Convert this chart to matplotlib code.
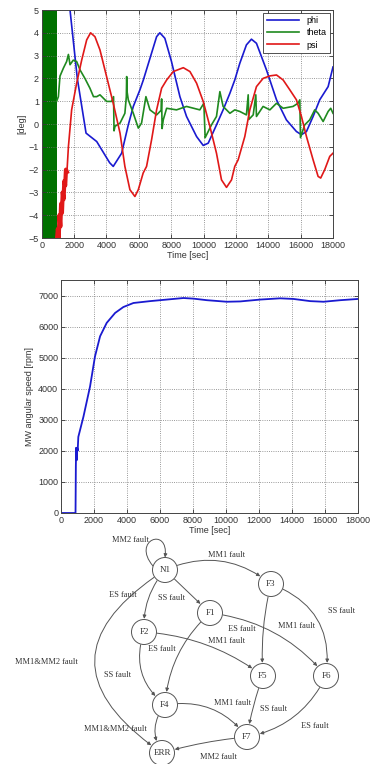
import matplotlib
matplotlib.use('Agg')
import matplotlib.pyplot as plt
from matplotlib.patches import Circle, FancyArrowPatch
from matplotlib.path import Path

plt.rcParams['font.family'] = ['Liberation Sans', 'DejaVu Sans']

# ---- attitude angles [deg] vs time [sec]
phi_t = [1300, 1750, 2200, 2740, 3400, 4200, 4420, 4940, 5350, 5660, 6070, 6280, 6690, 7100, 7300,
         7610, 8020, 8540, 8950, 9570, 9980, 10290, 10800, 11210, 11630, 11930, 12240, 12650, 12960,
         13270, 13890, 14510, 15120, 15740, 16050, 16360, 16770, 17180, 17700, 18000]
phi = [8.0, 5.0, 2.0, -0.4, -0.77, -1.7, -1.86, -1.28, -0.04, 0.77, 1.5, 1.93, 2.88, 3.83, 4.0,
       3.76, 2.74, 1.2, 0.33, -0.55, -0.94, -0.84, -0.04, 0.62, 1.35, 1.93, 2.66, 3.47, 3.72,
       3.54, 2.37, 1.06, 0.18, -0.33, -0.47, -0.33, 0.33, 1.06, 1.64, 2.5]

theta_band = [0, 925]
theta_t = [925, 1030, 1130, 1340, 1540, 1650, 1750, 1950, 2160, 2370, 2670, 2980, 3200, 3400, 3600,
           4010, 4320, 4440, 4470, 4530, 4840, 5140, 5230, 5250, 5280, 5350, 5660, 5970, 6170, 6440,
           6690, 7100, 7380, 7410, 7440, 7510, 7720, 8330, 8950, 9770, 10020, 10100, 10190, 10490,
           10800, 11010, 11210, 11630, 11930, 12240, 12650, 12760, 12800, 13070, 13230, 13270, 13680,
           14100, 14510, 14920, 15530, 15840, 15950, 15990, 16250, 16560, 16870, 17080, 17390, 17700,
           17860, 18000]
theta = [1.0, 1.2, 2.1, 2.45, 2.74, 3.05, 2.6, 2.8, 2.74, 2.37, 2.0, 1.57, 1.2, 1.2, 1.28,
         0.99, 0.99, 1.2, -0.3, -0.1, 0.04, 0.47, 1.2, 2.08, 1.4, 1.06, 0.47, -0.18, 0.04, 1.2,
         0.62, 0.4, 0.6, 1.1, -0.2, 0.18, 0.69, 0.62, 0.77, 0.62, 0.91, -0.6, -0.47, -0.04,
         0.33, 1.42, 0.77, 0.47, 0.62, 0.55, 0.40, 1.28, 0.2, 0.4, 1.28, 0.33, 0.77,
         0.62, 0.91, 0.69, 0.77, 0.91, 1.06, -0.6, -0.04, 0.18, 0.62, 0.47, 0.11, 0.55,
         0.69, 0.47]

psi_t = [950, 1000, 1050, 1100, 1150, 1200, 1250, 1300, 1350, 1400, 1450, 1500, 1560, 1650, 1850,
         2160, 2470, 2780, 3020, 3290, 3600, 4010, 4420, 4840, 5140, 5450, 5760, 5970, 6270, 6480,
         6790, 7100, 7410, 7720, 8130, 8750, 9160, 9570, 9980, 10390, 10800, 11110, 11420, 11730,
         11930, 12140, 12550, 12860, 13270, 13680, 14100, 14510, 14920, 15330, 15740, 16050, 16360,
         16770, 17080, 17240, 17490, 17800, 18000]
psi = [-5.0, -4.6, -5.0, -4.0, -4.5, -3.5, -3.9, -3.0, -3.3, -2.5, -2.7, -2.0, -2.1, -1.0, 0.62,
       1.79, 2.8, 3.69, 4.0, 3.83, 3.25, 2.08, 0.91, -0.4, -1.86, -2.88, -3.18, -2.88, -2.15, -1.86,
       -0.69, 0.62, 1.57, 1.93, 2.30, 2.47, 2.30, 1.79, 0.99, -0.1, -1.28, -2.45, -2.78, -2.45,
       -1.86, -1.57, -0.55, 0.62, 1.64, 2.0, 2.11, 2.15, 1.93, 1.5, 1.06, 0.33, -0.55,
       -1.57, -2.3, -2.37, -2.0, -1.42, -1.28]

# ---- momentum wheel speed [rpm]
mw_t = [0, 880, 890, 900, 920, 950, 980, 1010, 1050, 1360, 1760, 2060, 2370, 2770, 3280, 3780,
        4390, 5400, 6410, 7420, 8030, 8840, 10050, 10860, 12070, 13280, 14090, 15100, 15910, 16930, 18000]
mw_rpm = [0, 0, 700, 1500, 2100, 1700, 2100, 2000, 2450, 3100, 4070, 5040, 5690, 6120, 6440, 6630,
          6760, 6820, 6870, 6920, 6900, 6850, 6800, 6810, 6870, 6910, 6890, 6820, 6800, 6850, 6890]

# ---- fault state diagram
nodes = {'N1': (165, 570), 'F3': (271, 584), 'F1': (210, 613), 'F2': (144, 632),
         'F5': (263, 676), 'F6': (326, 676), 'F4': (165, 705), 'F7': (247, 737), 'ERR': (162, 753)}
edges = [('N1', 'F3', -0.3), ('N1', 'F1', 0.0), ('N1', 'F2', 0.2), ('N1', 'ERR', 0.75),
         ('F3', 'F5', 0.08), ('F3', 'F6', -0.4), ('F1', 'F6', -0.2), ('F1', 'F4', 0.2),
         ('F2', 'F5', -0.15), ('F2', 'F4', 0.35), ('F4', 'F7', -0.3), ('F4', 'ERR', 0.35),
         ('F5', 'F7', 0.05), ('F6', 'F7', -0.25), ('F7', 'ERR', 0.05)]
edge_labels = [('MM2 fault', 130, 540), ('MM1 fault', 227, 555), ('ES fault', 123, 595),
               ('SS fault', 172, 598), ('SS fault', 342, 611), ('ES fault', 242, 629),
               ('MM1 fault', 297, 626), ('MM1 fault', 227, 641), ('ES fault', 162, 649),
               ('MM1&MM2 fault', 46, 662), ('SS fault', 118, 675), ('MM1 fault', 232, 703),
               ('SS fault', 273, 709), ('ES fault', 315, 726), ('MM1&MM2 fault', 115, 729),
               ('MM2 fault', 218, 757)]

fs = 6.5
grid_kw = dict(linestyle=':', color='#777777', linewidth=0.6)


def style_axes(ax):
    ax.grid(True, **grid_kw)
    ax.tick_params(direction='in', length=3, width=0.6, top=True, right=True,
                   labelsize=fs, colors='#333333', pad=2)
    for s in ax.spines.values():
        s.set_linewidth(0.7)
        s.set_color('#444444')


fig = plt.figure(figsize=(3.77, 7.64), dpi=100)

ax1 = fig.add_axes([41.7 / 377, 1 - 238 / 764, 291.3 / 377, 228 / 764])
ax1.fill_between(theta_band, -5, 5, color='#007000', linewidth=0)
ax1.plot(phi_t, phi, color='#1a1ad0', lw=1.2, label='phi')
ax1.plot(theta_t, theta, color='#1f8a1f', lw=1.2, label='theta')
ax1.plot(psi_t, psi, color='#e01818', lw=1.2, label='psi')
ax1.plot(psi_t[:13], psi[:13], color='#e01818', lw=3.0)
ax1.set_xlim(0, 18000)
ax1.set_ylim(-5, 5)
ax1.set_xticks(range(0, 18001, 2000))
ax1.set_yticks(range(-5, 6))
ax1.set_xlabel('Time [sec]', fontsize=fs, color='#333333', labelpad=1)
ax1.set_ylabel('[deg]', fontsize=fs, color='#333333', labelpad=2)
style_axes(ax1)
leg = ax1.legend(loc='upper right', fontsize=fs, handlelength=3.6, borderpad=0.4,
                 labelspacing=0.35, fancybox=False, framealpha=1, edgecolor='#333333',
                 borderaxespad=0.3)
leg.get_frame().set_linewidth(0.6)

ax2 = fig.add_axes([61 / 377, 1 - 513 / 764, 297 / 377, 233 / 764])
ax2.plot(mw_t, mw_rpm, color='#1a1ad0', lw=1.3)
ax2.set_xlim(0, 18000)
ax2.set_ylim(0, 7500)
ax2.set_xticks(range(0, 18001, 2000))
ax2.set_yticks(range(0, 7001, 1000))
ax2.set_xlabel('Time [sec]', fontsize=fs, color='#333333', labelpad=1)
ax2.set_ylabel('MW angular speed [rpm]', fontsize=fs, color='#333333', labelpad=3)
style_axes(ax2)

# diagram drawn in pixel coordinates
ax3 = fig.add_axes([0, 0, 1, 235 / 764])
ax3.set_xlim(0, 377)
ax3.set_ylim(764, 529)
ax3.set_axis_off()

r = 12.5
shrink = r * 0.72 + 0.5
for a, b, rad in edges:
    arr = FancyArrowPatch(nodes[a], nodes[b], connectionstyle='arc3,rad=%s' % rad,
                          arrowstyle='-|>', mutation_scale=5, shrinkA=shrink, shrinkB=shrink,
                          color='#555555', linewidth=0.7, zorder=1)
    ax3.add_patch(arr)

# self loop on N1
n1x, n1y = nodes['N1']
loop_path = Path([(n1x - 12, n1y - 4), (n1x - 34, n1y - 30), (n1x + 4, n1y - 44), (n1x, n1y - r)],
                 [Path.MOVETO, Path.CURVE4, Path.CURVE4, Path.CURVE4])
loop = FancyArrowPatch(path=loop_path, arrowstyle='-|>', mutation_scale=5,
                       color='#555555', linewidth=0.7, zorder=1)
ax3.add_patch(loop)

for name, (x, y) in nodes.items():
    ax3.add_patch(Circle((x, y), r, facecolor='white', edgecolor='#555555', linewidth=0.7, zorder=2))
    ax3.text(x, y, name, ha='center', va='center', fontsize=6.5, family='Liberation Serif',
             color='#333333', zorder=3)

for txt, x, y in edge_labels:
    ax3.text(x, y, txt, ha='center', va='center', fontsize=6, family='Liberation Serif',
             color='#333333', zorder=3)

plt.savefig('out.png', dpi=100)
